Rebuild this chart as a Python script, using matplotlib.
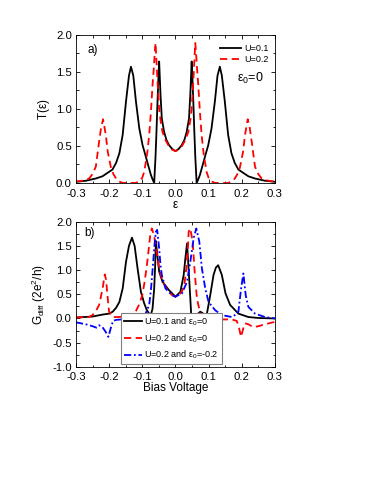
import matplotlib
matplotlib.use("Agg")
import matplotlib.pyplot as plt
from matplotlib.ticker import MultipleLocator

plt.rcParams['font.family'] = ['Liberation Sans', 'DejaVu Sans']
plt.rcParams['mathtext.fontset'] = 'custom'
plt.rcParams['mathtext.rm'] = 'Liberation Sans'
plt.rcParams['mathtext.it'] = 'Liberation Sans'

# ---- panel a: transmission T(eps) ----
ta_x = [-0.3, -0.27, -0.24, -0.22, -0.2, -0.19, -0.179, -0.169, -0.159, -0.149, -0.14,
        -0.134, -0.127, -0.119, -0.109, -0.099, -0.092, -0.084, -0.074, -0.069, -0.064,
        -0.06, -0.057, -0.054, -0.051, -0.049, -0.045, -0.041, -0.034, -0.027, -0.019,
        -0.01, 0.0, 0.01, 0.019, 0.027, 0.034, 0.041, 0.045, 0.049, 0.051, 0.054, 0.057,
        0.06, 0.064, 0.069, 0.074, 0.084, 0.092, 0.099, 0.109, 0.119, 0.127, 0.134, 0.14,
        0.149, 0.159, 0.169, 0.179, 0.19, 0.2, 0.22, 0.24, 0.27, 0.3]
ta_u01 = [0.015, 0.03, 0.06, 0.09, 0.15, 0.18, 0.27, 0.4, 0.65, 1.1, 1.45,
          1.57, 1.45, 1.1, 0.74, 0.51, 0.4, 0.27, 0.11, 0.05, 0.0,
          0.35, 0.7, 1.1, 1.45, 1.64, 1.2, 0.87, 0.69, 0.58, 0.51,
          0.46, 0.43, 0.46, 0.51, 0.58, 0.69, 0.87, 1.2, 1.64, 1.45, 1.1, 0.7,
          0.35, 0.0, 0.05, 0.11, 0.27, 0.4, 0.51, 0.74, 1.1, 1.45, 1.57, 1.45,
          1.1, 0.65, 0.4, 0.27, 0.18, 0.15, 0.09, 0.06, 0.03, 0.015]

tb_x = [-0.3, -0.28, -0.26, -0.25, -0.24, -0.23, -0.224, -0.218, -0.21, -0.204, -0.194,
        -0.187, -0.179, -0.17, -0.159, -0.12, -0.109, -0.1, -0.094, -0.085, -0.079,
        -0.074, -0.069, -0.066, -0.063, -0.06, -0.056, -0.053, -0.049, -0.045, -0.039,
        -0.03, -0.02, -0.01, 0.0, 0.01, 0.02, 0.03, 0.039, 0.045, 0.049, 0.053, 0.056,
        0.06, 0.063, 0.066, 0.069, 0.074, 0.079, 0.085, 0.094, 0.1, 0.109, 0.12, 0.159,
        0.17, 0.179, 0.187, 0.194, 0.204, 0.21, 0.218, 0.224, 0.23, 0.24, 0.25, 0.26,
        0.28, 0.3]
tb_u02 = [0.02, 0.03, 0.06, 0.12, 0.22, 0.56, 0.75, 0.86, 0.65, 0.42, 0.2,
          0.12, 0.06, 0.02, 0.0, 0.0, 0.02, 0.07, 0.15, 0.4, 0.65,
          0.95, 1.32, 1.5, 1.7, 1.89, 1.55, 1.3, 1.0, 0.85, 0.69,
          0.58, 0.5, 0.45, 0.43, 0.45, 0.5, 0.58, 0.69, 0.85, 1.0, 1.3, 1.55,
          1.89, 1.7, 1.5, 1.32, 0.95, 0.65, 0.4, 0.15, 0.07, 0.02, 0.0, 0.0,
          0.02, 0.06, 0.12, 0.2, 0.42, 0.65, 0.86, 0.75, 0.56, 0.22, 0.12, 0.06,
          0.03, 0.02]

# ---- panel b: differential conductance ----
ga_x = [-0.3, -0.25, -0.22, -0.2, -0.189, -0.179, -0.169, -0.159, -0.149, -0.14, -0.131,
        -0.123, -0.114, -0.104, -0.094, -0.086, -0.079, -0.074, -0.069, -0.064, -0.061,
        -0.059, -0.055, -0.049, -0.039, -0.02, 0.0, 0.015, 0.025, 0.03, 0.035, 0.04,
        0.045, 0.048, 0.055, 0.065, 0.075, 0.082, 0.088, 0.095, 0.105, 0.115, 0.122,
        0.129, 0.14, 0.151, 0.165, 0.19, 0.22, 0.25, 0.3]
ga_u01 = [0.02, 0.04, 0.08, 0.1, 0.14, 0.22, 0.34, 0.62, 1.17, 1.5, 1.67,
          1.5, 1.03, 0.55, 0.31, 0.17, 0.1, 0.08, 0.2, 0.62, 1.1,
          1.6, 1.35, 0.97, 0.76, 0.59, 0.45, 0.55, 0.9, 1.24, 1.55, 1.0,
          0.41, 0.03, 0.0, 0.08, 0.14, 0.11, 0.07, 0.1, 0.48, 0.9, 1.05,
          1.1, 0.9, 0.52, 0.28, 0.1, 0.03, 0.01, 0.0]

gb_x = [-0.3, -0.26, -0.25, -0.24, -0.23, -0.22, -0.213, -0.209, -0.205, -0.2, -0.19,
        -0.17, -0.15, -0.13, -0.12, -0.11, -0.1, -0.093, -0.086, -0.081, -0.076, -0.071,
        -0.066, -0.061, -0.055, -0.049, -0.04, -0.03, -0.02, -0.01, 0.0, 0.01, 0.02,
        0.028, 0.034, 0.038, 0.04, 0.045, 0.052, 0.058, 0.065, 0.075, 0.085, 0.1, 0.17,
        0.185, 0.192, 0.198, 0.204, 0.21, 0.22, 0.235, 0.25, 0.27, 0.3]
gb_u02 = [0.02, 0.03, 0.07, 0.15, 0.28, 0.6, 0.91, 0.8, 0.48, 0.14, 0.03,
          0.03, 0.05, 0.09, 0.14, 0.28, 0.48, 0.75, 1.1, 1.4, 1.72, 1.86,
          1.75, 1.59, 1.3, 1.03, 0.8, 0.65, 0.55, 0.48, 0.45, 0.48, 0.56,
          0.75, 1.1, 1.5, 1.79, 1.86, 1.59, 0.97, 0.41, 0.1, 0.03, -0.02, -0.02,
          -0.05, -0.2, -0.38, -0.22, -0.1, -0.12, -0.18, -0.16, -0.12, -0.07]

gc_x = [-0.3, -0.27, -0.25, -0.238, -0.23, -0.22, -0.21, -0.202, -0.195, -0.188, -0.179,
        -0.15, -0.12, -0.1, -0.09, -0.079, -0.073, -0.067, -0.062, -0.059, -0.055,
        -0.049, -0.045, -0.041, -0.03, -0.01, 0.0, 0.02, 0.035, 0.045, 0.055, 0.063,
        0.072, 0.08, 0.09, 0.1, 0.12, 0.14, 0.17, 0.182, 0.19, 0.198, 0.205, 0.212,
        0.22, 0.24, 0.27, 0.3]
gc_u02 = [-0.08, -0.12, -0.16, -0.19, -0.14, -0.18, -0.28, -0.38, -0.2, -0.05, -0.03,
          -0.01, 0.0, 0.03, 0.1, 0.28, 0.65, 1.17, 1.6, 1.79, 1.83,
          1.45, 1.1, 0.9, 0.62, 0.48, 0.45, 0.52, 0.76, 1.17, 1.66, 1.86,
          1.59, 1.03, 0.62, 0.34, 0.17, 0.07, 0.03, 0.08, 0.14, 0.62, 0.93, 0.48,
          0.24, 0.1, 0.03, 0.0]

fig = plt.figure(figsize=(3.74, 4.84), dpi=100)
ax1 = fig.add_axes([0.203, 0.622, 0.532, 0.306])
ax2 = fig.add_axes([0.203, 0.242, 0.532, 0.300])

lw = 1.3
ax1.plot(ta_x, ta_u01, color='black', lw=lw, label='U=0.1')
ax1.plot(tb_x, tb_u02, color='red', lw=lw, dashes=(4, 2.5), label='U=0.2')

ax2.plot(ga_x, ga_u01, color='black', lw=lw, label=r'U=0.1 and $\mathregular{\varepsilon_0}$=0')
ax2.plot(gb_x, gb_u02, color='red', lw=lw, dashes=(4, 2.5), label=r'U=0.2 and $\mathregular{\varepsilon_0}$=0')
ax2.plot(gc_x, gc_u02, color='blue', lw=lw, dashes=(4, 1.5, 1, 1.5), label=r'U=0.2 and $\mathregular{\varepsilon_0}$=-0.2')

for ax in (ax1, ax2):
    ax.set_xlim(-0.3, 0.3)
    ax.xaxis.set_major_locator(MultipleLocator(0.1))
    ax.xaxis.set_minor_locator(MultipleLocator(0.05))
    ax.yaxis.set_major_locator(MultipleLocator(0.5))
    ax.yaxis.set_minor_locator(MultipleLocator(0.25))
    ax.tick_params(which='both', direction='in', top=True, right=True, labelsize=8.2, width=0.6)
    ax.tick_params(which='major', length=3)
    ax.tick_params(which='minor', length=1.8)
    ax.tick_params(axis='x', which='major', pad=4)
    ax.tick_params(axis='y', which='major', pad=3)
    for s in ax.spines.values():
        s.set_linewidth(0.6)
    ax.set_xticks([-0.3, -0.2, -0.1, 0.0, 0.1, 0.2, 0.3])
    ax.set_xticklabels(['-0.3', '-0.2', '-0.1', '0.0', '0.1', '0.2', '0.3'])

ax1.set_ylim(0, 2.0)
ax1.set_yticks([0.0, 0.5, 1.0, 1.5, 2.0])
ax1.set_yticklabels(['0.0', '0.5', '1.0', '1.5', '2.0'])
ax2.set_ylim(-1.0, 2.0)
ax2.set_yticks([-1.0, -0.5, 0.0, 0.5, 1.0, 1.5, 2.0])
ax2.set_yticklabels(['-1.0', '-0.5', '0.0', '0.5', '1.0', '1.5', '2.0'])

ax1.set_xlabel(r'$\mathregular{\varepsilon}$', fontsize=8.5, labelpad=0)
ax1.set_ylabel(r'T($\mathregular{\varepsilon}$)', fontsize=8.5, labelpad=3)
ax2.set_xlabel('Bias Voltage', fontsize=8.5, labelpad=0)
ax2.set_ylabel(r'G$\mathregular{_{diff}}$ (2e$\mathregular{^2}$/h)', fontsize=8.5, labelpad=3)

ax1.text(0.06, 0.88, 'a)', transform=ax1.transAxes, fontsize=8.5)
ax2.text(0.04, 0.9, 'b)', transform=ax2.transAxes, fontsize=8.5)
ax1.text(0.81, 0.68, r'$\mathregular{\varepsilon_0}$=0', transform=ax1.transAxes, fontsize=9)

ax1.legend(loc='upper right', frameon=False, fontsize=6.5, handlelength=2.4,
           handletextpad=0.3, labelspacing=0.2, borderaxespad=0.3, bbox_to_anchor=(1.0, 0.98))
leg = ax2.legend(loc='lower left', bbox_to_anchor=(0.226, 0.02), fontsize=6.5, fancybox=False,
                 edgecolor='gray', handlelength=2.0, handletextpad=0.3, labelspacing=0.45,
                 borderpad=0.3, borderaxespad=0.0, framealpha=1)
leg.get_frame().set_linewidth(0.8)

fig.savefig('out.png', dpi=100)
